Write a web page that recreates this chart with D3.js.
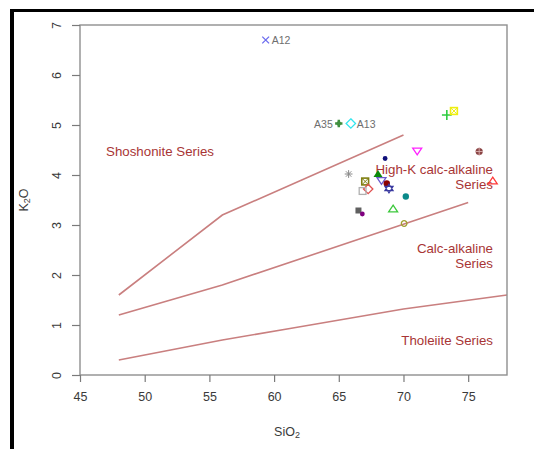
<!DOCTYPE html>
<html><head><meta charset="utf-8">
<script src="https://cdn.jsdelivr.net/npm/d3@7"></script>
<style>
html,body{margin:0;padding:0;background:#fff;}
svg{display:block;font-family:"Liberation Sans",Arial,sans-serif;}
</style></head>
<body>
<svg id="chart" width="534" height="449"></svg>
<script>
// ---- data ----
const sampleNames = ["A12","A35","A13","","","","","","","","","","","","","","","","","","",""];
const sio2 = [59.35,65.0,65.93,73.35,73.9,71.06,75.85,68.58,65.76,68.03,67.04,68.3,68.71,68.88,76.9,67.27,66.84,70.18,69.2,66.52,66.82,70.05];
const k2o  = [6.70,5.03,5.03,5.20,5.28,4.48,4.47,4.33,4.02,4.02,3.87,3.89,3.83,3.73,3.88,3.72,3.68,3.57,3.32,3.29,3.22,3.03];
const pchType = ["x","filledcross","diamond","plus","squarex","tridown","circleplus","dotsmall","asterisk","trifilled","squarex","tridown","circlefilled","star","triup","diamond","square","circlefilled","triup","squarefilled","dotsmall","circle"];
const pchColor = ["#6b6bef","#3f8f3f","#33e6ee","#2ecc40","#eeee10","#ff22ff","#8b4545","#10107a","#8a8a8a","#0a8a0a","#7f7f10","#6a5acd","#8b0000","#3a3aa0","#ff3a3a","#e05050","#b0b0b0","#0a8a8a","#3cc83c","#606060","#800080","#a0a030"];
const labelSide = ["right","left","right","","","","","","","","","","","","","","","","","","",""];

const shoshLineX = [48,56,70], shoshLineY = [1.6,3.2,4.8];
const highKLineX = [48,56,75], highKLineY = [1.2,1.8,3.45];
const tholLineX = [48,56,61,70,78], tholLineY = [0.3,0.7,0.92,1.32,1.6];

const xTicks = [45,50,55,60,65,70,75];
const yTicks = [0,1,2,3,4,5,6,7];

// ---- layout ----
const svg = d3.select("#chart");
const x = d3.scaleLinear().domain([45,78]).range([80,507]);
const y = d3.scaleLinear().domain([0,7]).range([375,25]);

// outer black frame (top & left)
svg.append("line").attr("x1",10).attr("x2",534).attr("y1",10.5).attr("y2",10.5).attr("stroke","#000").attr("stroke-width",3);
svg.append("line").attr("x1",12).attr("x2",12).attr("y1",9).attr("y2",449).attr("stroke","#000").attr("stroke-width",4);

const lineCol = "#c97f7f";
const lg = d3.line().x(d=>x(d[0])).y(d=>y(d[1]));
[[shoshLineX,shoshLineY],[highKLineX,highKLineY],[tholLineX,tholLineY]].forEach(([xs,ys])=>{
  svg.append("path").attr("d",lg(xs.map((v,i)=>[v,ys[i]]))).attr("fill","none").attr("stroke",lineCol).attr("stroke-width",1.6);
});

// series labels
const serCol = "#a83535";
function lab(t,px,py,anchor){
  svg.append("text").attr("x",px).attr("y",py).attr("text-anchor",anchor).attr("dominant-baseline","central")
    .attr("font-size",13.3).attr("fill",serCol).text(t);
}
lab("Shoshonite Series",160,151,"middle");
lab("High-K calc-alkaline",493,169,"end");
lab("Series",493,184,"end");
lab("Calc-alkaline",493,248,"end");
lab("Series",493,263,"end");
lab("Tholeiite Series",493,340,"end");

// points
function sym(t,cx,cy,c){
  const g = svg.append("g").attr("transform",`translate(${cx},${cy})`);
  const s = 3.9;
  const sw = 1.3;
  const st = el=>el.attr("fill","none").attr("stroke",c).attr("stroke-width",sw);
  switch(t){
    case "x": st(g.append("path").attr("d",`M${-s+0.5},${-s+0.5}L${s-0.5},${s-0.5}M${-s+0.5},${s-0.5}L${s-0.5},${-s+0.5}`)); break;
    case "plus": st(g.append("path").attr("d",`M${-s-1},0L${s+1},0M0,${-s-1}L0,${s+1}`)).attr("stroke-width",1.6); break;
    case "filledcross": g.append("path").attr("d",d3.symbol(d3.symbolCross,30)()).attr("fill",c);
      g.append("circle").attr("r",2.3).attr("fill",c); break;
    case "diamond": st(g.append("path").attr("d",`M0,${-s-0.8}L${s+0.8},0L0,${s+0.8}L${-s-0.8},0Z`)); break;
    case "square": st(g.append("rect").attr("x",-s+0.5).attr("y",-s+0.5).attr("width",2*s-1).attr("height",2*s-1)); break;
    case "squarefilled": g.append("rect").attr("x",-3).attr("y",-3).attr("width",6).attr("height",6).attr("fill",c); break;
    case "squarex": st(g.append("rect").attr("x",-s+0.5).attr("y",-s+0.5).attr("width",2*s-1).attr("height",2*s-1)).attr("stroke-width",1.6);
      st(g.append("path").attr("d",`M${-s+0.5},${-s+0.5}L${s-0.5},${s-0.5}M${-s+0.5},${s-0.5}L${s-0.5},${-s+0.5}`)).attr("stroke-width",1); break;
    case "tridown": st(g.append("path").attr("d",`M${-s-0.6},${-s+1}L${s+0.6},${-s+1}L0,${s}Z`)); break;
    case "triup": st(g.append("path").attr("d",`M${-s-0.6},${s-1}L${s+0.6},${s-1}L0,${-s}Z`)); break;
    case "trifilled": g.append("path").attr("d",`M${-s-0.6},${s-1}L${s+0.6},${s-1}L0,${-s}Z`).attr("fill",c); break;
    case "circle": st(g.append("circle").attr("r",2.8)); break;
    case "circlefilled": g.append("circle").attr("r",3.2).attr("fill",c); break;
    case "dotsmall": g.append("circle").attr("r",2.4).attr("fill",c); break;
    case "circleplus": g.append("circle").attr("r",3.6).attr("fill",c);
      g.append("path").attr("d",`M${-s},0L${s},0M0,${-s-0.5}L0,${s+0.5}`).attr("stroke","#d8b0b0").attr("stroke-width",0.9); break;
    case "asterisk": st(g.append("path").attr("d",`M${-s},0L${s},0M0,${-s}L0,${s}M${-s*0.7},${-s*0.7}L${s*0.7},${s*0.7}M${-s*0.7},${s*0.7}L${s*0.7},${-s*0.7}`)).attr("stroke-width",1); break;
    case "star": st(g.append("path").attr("d",`M${-s-0.3},${s*0.55}L${s+0.3},${s*0.55}L0,${-s-0.6}Z M${-s-0.3},${-s*0.55}L${s+0.3},${-s*0.55}L0,${s+0.6}Z`)).attr("stroke-width",1.1); break;
  }
}
sio2.forEach((v,i)=>{
  sym(pchType[i], x(v), y(k2o[i]), pchColor[i]);
  if(sampleNames[i]){
    const side = labelSide[i];
    svg.append("text").attr("x", side==="right"? x(v)+6 : x(v)-6).attr("y", y(k2o[i]))
      .attr("text-anchor", side==="right"?"start":"end").attr("dominant-baseline","central")
      .attr("font-size",10.5).attr("fill","#6e6e6e").text(sampleNames[i]);
  }
});

// box
svg.append("rect").attr("x",80).attr("y",25).attr("width",427).attr("height",350)
  .attr("fill","none").attr("stroke","#8f8f8f").attr("stroke-width",1.4);

// x axis
const xa = svg.append("g").attr("transform","translate(0,375)")
  .call(d3.axisBottom(x).tickValues(xTicks).tickFormat(d3.format("d")).tickSize(7).tickPadding(10).tickSizeOuter(0));
xa.select(".domain").remove();
xa.selectAll("line").attr("stroke","#7a7a7a").attr("stroke-width",1.2);
xa.selectAll("text").attr("font-size",12.5).attr("fill","#3a3a3a").attr("font-family","Liberation Sans, Arial, sans-serif");

// y axis
const ya = svg.append("g").attr("transform","translate(80,0)")
  .call(d3.axisLeft(y).tickValues(yTicks).tickFormat(d3.format("d")).tickSize(8).tickSizeOuter(0));
ya.select(".domain").remove();
ya.selectAll("line").attr("stroke","#7a7a7a").attr("stroke-width",1.2);
ya.selectAll("text").attr("font-size",12.5).attr("fill","#3a3a3a").attr("font-family","Liberation Sans, Arial, sans-serif")
  .attr("text-anchor","middle").attr("dy",null).attr("dominant-baseline","central")
  .attr("x",null).attr("transform","translate(-23,0) rotate(-90)");

// axis titles
const xt = svg.append("text").attr("x",287).attr("y",432).attr("text-anchor","middle").attr("dominant-baseline","central")
  .attr("font-size",12.5).attr("fill","#3a3a3a");
xt.append("tspan").text("SiO");
xt.append("tspan").attr("font-size",9).attr("dy",3).text("2");

const yt = svg.append("text").attr("transform","translate(24,200) rotate(-90)").attr("text-anchor","middle").attr("dominant-baseline","central")
  .attr("font-size",12.5).attr("fill","#3a3a3a");
yt.append("tspan").text("K");
yt.append("tspan").attr("font-size",9).attr("dy",3).text("2");
yt.append("tspan").attr("dy",-3).text("O");
</script>
</body></html>
